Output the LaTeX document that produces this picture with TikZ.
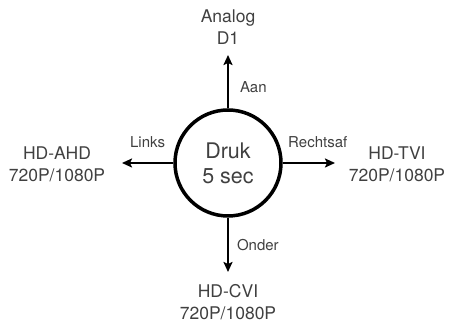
\documentclass[tikz,border=0pt]{standalone}
\usepackage{fontspec}
\setmainfont{TeX Gyre Heros}
\usetikzlibrary{arrows.meta}

\tikzstyle{button}=[circle, draw, line width=3.5pt, inner sep=0pt, minimum size=106pt, align=center, text=black!75, font=\fontsize{21.5}{25}\selectfont]
\tikzstyle{mode}=[align=center, text=black!75, font=\fontsize{17.5}{22}\selectfont]
\tikzstyle{pushto}=[-{Stealth[length=10pt,width=9pt,inset=2pt]}, line width=2pt]
\tikzstyle{way}=[inner sep=0pt, text=black!75, font=\fontsize{15}{17}\selectfont]

\begin{document}
\begin{tikzpicture}[x=1pt, y=1pt]
\useasboundingbox (0,0) rectangle (451,323);
\node[button] (D) at (228,160) {Druk\\5 sec};
\node[mode] (A) at (228,296) {Analog\\D1};
\node[mode] (L) at (57,159) {HD-AHD\\720P/1080P};
\node[mode] (R) at (397,159) {HD-TVI\\720P/1080P};
\node[mode] (B) at (228,20.5) {HD-CVI\\720P/1080P};
\coordinate (up) at (228,268);
\coordinate (left) at (122,160);
\coordinate (right) at (335,160);
\coordinate (down) at (228,51);
\draw[pushto] (D.north) to node[way, right=11pt, pos=0.4] {Aan} (up);
\draw[pushto] (D.west) to node[way, above=14pt, pos=0.5] {Links} (left);
\draw[pushto] (D.east) to node[way, above=14pt, pos=0.67] {Rechtsaf} (right);
\draw[pushto] (D.south) to node[way, right=8pt, pos=0.5] {Onder} (down);
\end{tikzpicture}
\end{document}
